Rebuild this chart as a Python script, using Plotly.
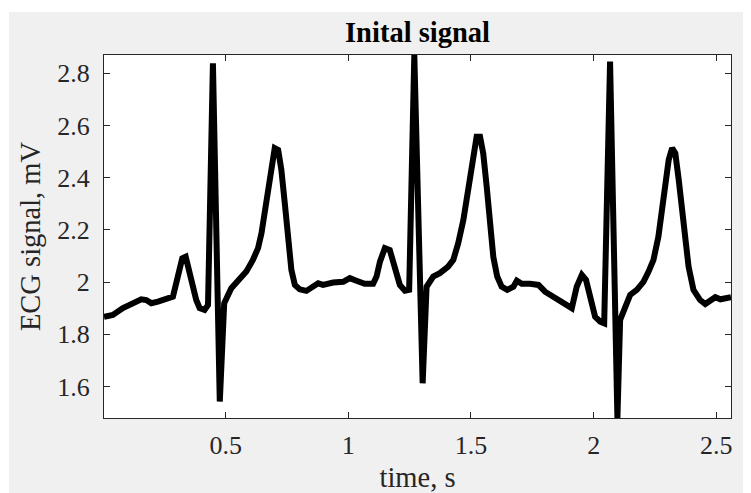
import plotly.graph_objects as go

# Time (s) and ECG amplitude (mV)
time_s = [0.004, 0.040, 0.081, 0.122, 0.156, 0.176, 0.197, 0.224, 0.251, 0.285,
          0.305, 0.323, 0.337, 0.353, 0.380, 0.394, 0.414, 0.428, 0.448, 0.476,
          0.494, 0.523, 0.557, 0.584, 0.611, 0.632, 0.646, 0.666, 0.687, 0.700,
          0.714, 0.727, 0.741, 0.754, 0.768, 0.782, 0.802, 0.829, 0.856, 0.877,
          0.897, 0.938, 0.979, 1.006, 1.033, 1.067, 1.101, 1.115, 1.129, 1.149,
          1.169, 1.190, 1.210, 1.231, 1.248, 1.269, 1.303, 1.319, 1.346, 1.373,
          1.407, 1.428, 1.448, 1.469, 1.489, 1.509, 1.523, 1.537, 1.550, 1.564,
          1.578, 1.591, 1.607, 1.625, 1.648, 1.673, 1.687, 1.707, 1.741, 1.775,
          1.802, 1.829, 1.863, 1.891, 1.911, 1.931, 1.952, 1.969, 1.986, 2.006,
          2.027, 2.043, 2.067, 2.097, 2.108, 2.129, 2.149, 2.176, 2.203, 2.224,
          2.244, 2.264, 2.285, 2.306, 2.320, 2.333, 2.347, 2.368, 2.387, 2.407,
          2.434, 2.455, 2.475, 2.496, 2.517, 2.537, 2.560]
ecg_mv = [1.867, 1.874, 1.900, 1.921, 1.934, 1.931, 1.919, 1.925, 1.931, 1.944,
          2.021, 2.091, 2.097, 2.034, 1.931, 1.900, 1.893, 1.912, 2.838, 1.542,
          1.919, 1.976, 2.008, 2.040, 2.085, 2.130, 2.187, 2.302, 2.430, 2.513,
          2.506, 2.430, 2.302, 2.161, 2.046, 1.989, 1.972, 1.966, 1.982, 1.995,
          1.989, 1.998, 2.001, 2.015, 2.005, 1.993, 1.993, 2.021, 2.078, 2.130,
          2.123, 2.059, 1.989, 1.967, 1.970, 2.870, 1.612, 1.982, 2.021, 2.034,
          2.059, 2.085, 2.149, 2.238, 2.366, 2.493, 2.557, 2.557, 2.493, 2.366,
          2.212, 2.097, 2.021, 1.982, 1.970, 1.982, 2.005, 1.993, 1.993, 1.989,
          1.963, 1.947, 1.931, 1.916, 1.900, 1.982, 2.027, 2.008, 1.931, 1.867,
          1.848, 1.842, 2.845, 1.478, 1.855, 1.906, 1.951, 1.970, 2.001, 2.040,
          2.085, 2.174, 2.315, 2.468, 2.513, 2.493, 2.391, 2.200, 2.059, 1.970,
          1.931, 1.916, 1.931, 1.942, 1.934, 1.938, 1.942]

x_tick_vals = [0.5, 1, 1.5, 2, 2.5]
x_tick_text = ["0.5", "1", "1.5", "2", "2.5"]
y_tick_vals = [1.6, 1.8, 2.0, 2.2, 2.4, 2.6, 2.8]
y_tick_text = ["1.6", "1.8", "2", "2.2", "2.4", "2.6", "2.8"]

title_text = "Inital signal"
x_label = "time, s"
y_label = "ECG signal, mV"

FONT = "Liberation Serif"
AX = "#262626"
W, H = 743, 485  # page body margin of 8px brings the picture to 751x493

fig = go.Figure()
fig.add_trace(go.Scatter(x=time_s, y=ecg_mv, mode="lines",
                         line=dict(color="black", width=6),
                         hoverinfo="skip", showlegend=False))

axis_common = dict(showgrid=False, zeroline=False, showline=True, linecolor=AX,
                   linewidth=1, mirror="ticks", ticks="inside", ticklen=6,
                   tickcolor=AX, tickwidth=1, automargin=False,
                   tickfont=dict(family=FONT, size=26, color=AX))

fig.update_layout(
    width=W, height=H,
    margin=dict(l=96, r=20, t=47, b=75, autoexpand=False),
    paper_bgcolor="white", plot_bgcolor="white",
    font=dict(family=FONT),
    title=dict(text=title_text, x=0.5, xref="paper", xanchor="center",
               y=1 - 24 / H, yref="container", yanchor="middle",
               font=dict(family=FONT, size=28.5, color="black", weight="bold")),
    xaxis=dict(range=[0.004, 2.56], tickvals=x_tick_vals, ticktext=x_tick_text,
               title=dict(text=x_label, standoff=7,
                          font=dict(family=FONT, size=28.5, color=AX)),
               ticklabelstandoff=4, **axis_common),
    yaxis=dict(range=[1.479, 2.870], tickvals=y_tick_vals, ticktext=y_tick_text,
               title=dict(text=y_label, standoff=8,
                          font=dict(family=FONT, size=28.5, color=AX)),
               ticklabelstandoff=8, **axis_common),
    shapes=[
        dict(type="rect", xref="paper", yref="paper", x0=-0.1515, x1=1.1,
             y0=-0.5, y1=1.1185, fillcolor="#f0f0f0", line=dict(width=0),
             layer="below"),
        dict(type="rect", xref="paper", yref="paper", x0=0, x1=1, y0=0, y1=1,
             fillcolor="white", line=dict(width=0), layer="below"),
    ],
)

fig.write_html("out.html")
